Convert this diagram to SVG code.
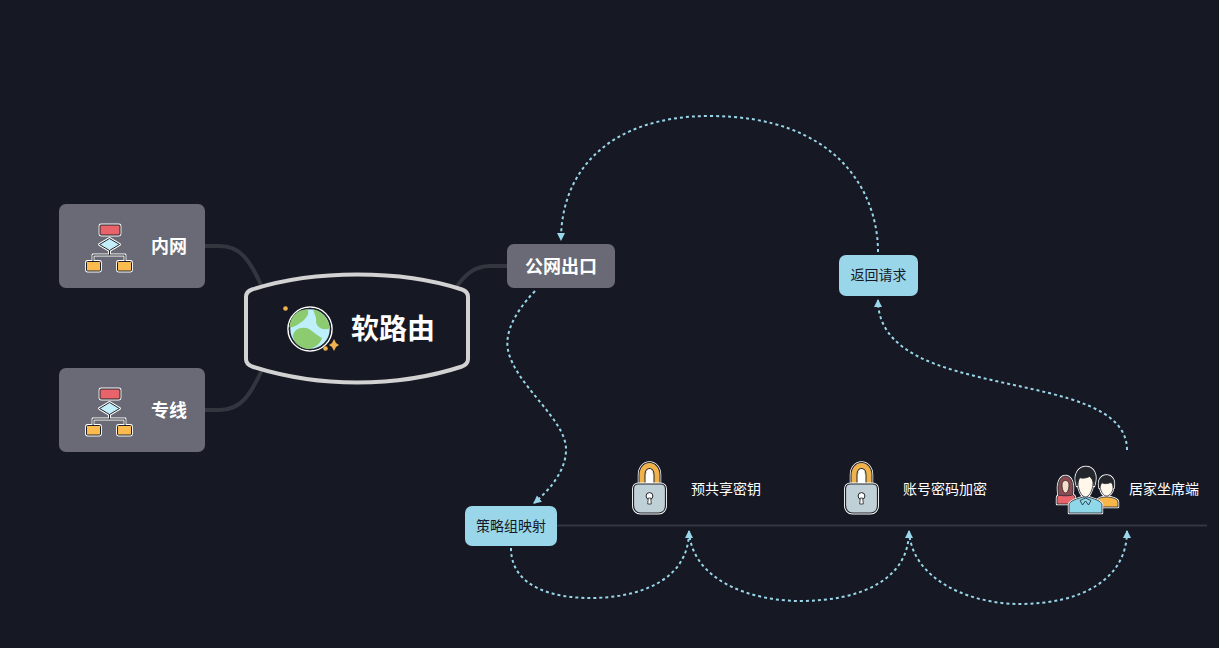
<svg xmlns="http://www.w3.org/2000/svg" width="1219" height="648" viewBox="0 0 1219 648">
<style>
text{font-family:"Noto Sans CJK SC","Noto Sans",sans-serif;text-anchor:middle;dominant-baseline:central}
.t1{font-size:18px;font-weight:700;fill:#fff}
.t2{font-size:14px;fill:#fff}
.t3{font-size:14px;fill:#161923}
.branch{fill:none;stroke:#33353f;stroke-width:4}
.dot{fill:none;stroke:#9ad6ea;stroke-width:2;stroke-dasharray:3 3}
.grey{fill:#696a75}
.blue{fill:#9ad6ea}
</style>
<defs>
<marker id="arr" markerUnits="userSpaceOnUse" markerWidth="9" markerHeight="9" refX="7" refY="4" orient="auto"><path d="M0 0L8 4L0 8Z" fill="#9ad6ea"/></marker>
<g id="flowshapes" stroke-linejoin="round">
<path d="M23.500 16V22M7 30V22H39V30" fill="none"/>
<rect x="14" y="-8" width="20" height="10" rx="1" fill="#e8646a"/>
<path d="M23.500 5.500L33.500 11.500L23.500 17.500L13.500 11.500Z" fill="#c3effa"/>
<rect x="0.500" y="28.500" width="14" height="9.500" rx="1" fill="#fbbb4e"/>
<rect x="31.500" y="28.500" width="14" height="9.500" rx="1" fill="#fbbb4e"/>
</g>
<g id="flow">
<use href="#flowshapes" stroke="#fff" stroke-width="2.800"/>
<use href="#flowshapes" stroke="#20222a" stroke-width="1"/>
</g>
<g id="lock">
<path d="M8.500 20V11C8.500 5 12 1.500 16 1.500C20 1.500 23.500 5 23.500 11V20" fill="none" stroke="#fff" stroke-width="8.500"/>
<path d="M8.500 20V11C8.500 5 12 1.500 16 1.500C20 1.500 23.500 5 23.500 11V20" fill="none" stroke="#20222a" stroke-width="7"/>
<path d="M8.500 20V11C8.500 5 12 1.500 16 1.500C20 1.500 23.500 5 23.500 11V20" fill="none" stroke="#f0b34c" stroke-width="5"/>
<path d="M12.500 20V11C12.500 7 14 5 16 5C18 5 19.500 7 19.500 11V20Z" fill="#fff"/>
<path d="M0 25C0 22 2 20 5 20H27C30 20 32 22 32 25V41C32 46 29 49 25 49H7C3 49 0 46 0 41Z" fill="#bfd0d6" stroke="#fff" stroke-width="3"/>
<path d="M0 25C0 22 2 20 5 20H27C30 20 32 22 32 25V41C32 46 29 49 25 49H7C3 49 0 46 0 41Z" fill="#bfd0d6" stroke="#20222a" stroke-width="1.200"/>
<circle cx="16" cy="32" r="3.400" fill="#fff" stroke="#20222a"/>
<path d="M14.800 34H17.200L17.800 40H14.200Z" fill="#fff" stroke="#20222a" stroke-width=".8"/>
</g>
<g id="woman" stroke-linejoin="round">
<path d="M1057 504V498C1057 495 1062 493 1066 493C1071 493 1075 495 1075 498V504Z" fill="#e8646a"/>
<path d="M1058.500 495C1056.500 483 1060 476 1065.500 476C1071 476 1074.500 483 1072.500 495C1070 496 1061 496 1058.500 495Z" fill="#8a4a52"/>
<path d="M1062 485C1062 481.500 1064 480.500 1065.500 480.500C1067 480.500 1069 481.500 1069 485C1069 490 1067 493 1065.500 493C1064 493 1062 490 1062 485Z" fill="#f7dcc8"/>
</g>
<g id="man" stroke-linejoin="round">
<path d="M1097 507V501C1098 498 1102 497 1106.500 497C1112 497 1118 499 1118 502V507Z" fill="#f8b648"/>
<path d="M1100 487C1099 481 1102 478 1106.500 478C1111 478 1114 481 1113 488C1113 492 1109.500 496 1106.500 496C1103.500 496 1101 492 1100 487Z" fill="#fff8ea"/>
<path d="M1099.500 488C1097.500 479 1102 475.500 1106.500 475.500C1111 475.500 1115.500 479 1113.500 488C1113 485 1112 483 1111 482.500C1107 484 1103 484 1102 482.500C1101 484 1100 486 1099.500 488Z" fill="#23252c"/>
</g>
<g id="lead" stroke-linejoin="round">
<path d="M1069 513V505C1069 501 1077 498.500 1085.500 496.500C1094 498.500 1102 501 1102 505V513Z" fill="#8ed8ea"/>
<path d="M1078 484C1078 477 1082 474 1085.500 474C1089 474 1093.500 477 1093 484C1092.500 491 1089 497 1085.500 497C1082 497 1078.500 491 1078 484Z" fill="#fff8ea"/>
<path d="M1077 486C1073 474 1079 467 1086 467C1093 467 1098 474 1094 486C1093.500 481 1092 478 1089.500 476.500C1086 478.500 1081 478.500 1079.500 477.500C1078.500 480 1077.500 483 1077 486Z" fill="#23252c"/>
<path d="M1085.500 498L1080 500.500L1082.500 505L1085.500 501L1088.500 505L1091 500.500Z" fill="#8ed8ea"/>
</g>
</defs>
<rect width="1219" height="648" fill="#161923"/>
<g id="connectors">
<path class="branch" d="M205 246H220C240 246 250 260 262 287"/>
<path class="branch" d="M205 410H220C240 410 250 396 262 370"/>
<path class="branch" d="M455 289C465 274 475 266 490 266H507"/>
<path d="M557 525.500H1207" fill="none" stroke="#33353f" stroke-width="2"/>
<path class="dot" marker-end="url(#arr)" d="M878 252C878 190 835 116 710 116C610 116 561 170 561 240"/>
<path class="dot" marker-end="url(#arr)" d="M1127 450C1127 365 878 405 878 300"/>
<path class="dot" marker-end="url(#arr)" d="M535 291C512 315 505 335 508 350C515 385 567 420 566 450C566 470 550 490 534 503"/>
<path class="dot" marker-end="url(#arr)" d="M511 548C511 588 555 598 590 598C640 598 689 580 689 531"/>
<path class="dot" marker-end="url(#arr)" d="M689 531C692 580 750 601 800 601C860 601 909 580 909 531"/>
<path class="dot" marker-end="url(#arr)" d="M909 531C912 580 970 604 1020 604C1080 604 1127 580 1127 531"/>
</g>
<g id="node-root">
<path d="M252 289.500C285 279 320 274.500 357 274.500C394 274.500 430 279 462 289.500Q468 291.500 468 297V359Q468 364 462 366.500C430 377 394 382.500 357 382.500C320 382.500 285 377 252 366.500Q246 364 246 359V297Q246 291.500 252 289.500Z" fill="#161923" stroke="#d2d2d2" stroke-width="4"/>
<circle cx="310" cy="329" r="22" fill="#161923" stroke="#fff" stroke-width="1.500"/>
<circle cx="310" cy="329" r="20.500" fill="#bdf0fb" stroke="#20222a" stroke-width="1.500"/>
<path d="M289.500 327C290 316 298 309.500 307 309.200C311 313 305 320 300 323C296 326 292 328 289.500 327Z" fill="#8ccb70"/>
<path d="M313 309.500C322 311 328 318 330 328C324 331 317 328 316 322C317 317 314 313 313 309.500Z" fill="#8ccb70"/>
<path d="M293 337C293 329 302 326 309 329C314 332 318 336 322 338C320 345 314 348 308 349C300 348 295 344 293 337Z" fill="#8ccb70"/>
<circle cx="285.500" cy="308.500" r="2.300" fill="#f2b14f"/>
<circle cx="325.500" cy="348.500" r="2.300" fill="#f2b14f"/>
<path d="M334 339L336 343L339 345L336 347L334 351L332 347L329 345L332 343Z" fill="#f2b14f"/>
<text x="393" y="327" font-size="28" font-weight="700" fill="#fff">软路由</text>
</g>
<g id="node-neiwang">
<rect class="grey" x="59" y="204" width="146" height="84" rx="7"/>
<use href="#flow" x="86" y="233"/>
<text class="t1" x="169" y="245">内网</text>
</g>
<g id="node-zhuanxian">
<rect class="grey" x="59" y="368" width="146" height="84" rx="7"/>
<use href="#flow" x="86" y="397"/>
<text class="t1" x="169" y="409">专线</text>
</g>
<g id="node-gongwang">
<rect class="grey" x="507" y="244" width="108" height="44" rx="7"/>
<text class="t1" x="561" y="265">公网出口</text>
</g>
<g id="node-fanhui">
<rect class="blue" x="839" y="255" width="79" height="41" rx="7"/>
<text class="t3" x="878.500" y="274">返回请求</text>
</g>
<g id="node-celue">
<rect class="blue" x="465" y="506" width="92" height="40" rx="7"/>
<text class="t3" x="511" y="525">策略组映射</text>
</g>
<g id="node-yugongxiang">
<use href="#lock" x="633.500" y="464"/>
<text class="t2" x="726" y="488">预共享密钥</text>
</g>
<g id="node-zhanghao">
<use href="#lock" x="845.500" y="464"/>
<text class="t2" x="945" y="488">账号密码加密</text>
</g>
<g id="node-jujia">
<use href="#woman" stroke="#fff" stroke-width="2.400"/>
<use href="#woman" stroke="#20222a" stroke-width=".8"/>
<use href="#man" stroke="#fff" stroke-width="2.400"/>
<use href="#man" stroke="#20222a" stroke-width=".8"/>
<use href="#lead" stroke="#fff" stroke-width="2.400"/>
<use href="#lead" stroke="#20222a" stroke-width=".8"/>
<text class="t2" x="1164" y="488">居家坐席端</text>
</g>
</svg>
